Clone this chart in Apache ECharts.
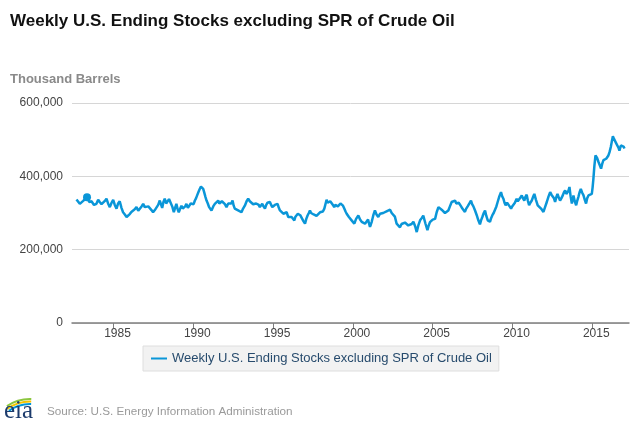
<!DOCTYPE html>
<html>
<head>
<meta charset="utf-8">
<script src="https://cdn.jsdelivr.net/npm/echarts@6/dist/echarts.min.js"></script>
<style>
  html, body { margin: 0; padding: 0; background: #fff; }
  #chart { width: 640px; height: 427px; }
</style>
</head>
<body>
<div id="chart"></div>
<script>
// Decimal years (x) and weekly ending stocks in thousand barrels (y)
const years = [
  1982.68, 1982.78, 1982.89, 1983.00, 1983.10, 1983.22, 1983.34, 1983.48, 1983.62, 1983.78,
  1983.93, 1984.04, 1984.14, 1984.25, 1984.35, 1984.46, 1984.56, 1984.66, 1984.77, 1984.88,
  1984.98, 1985.08, 1985.19, 1985.29, 1985.39, 1985.50, 1985.60, 1985.71, 1985.82, 1985.92,
  1986.02, 1986.12, 1986.23, 1986.33, 1986.44, 1986.55, 1986.65, 1986.76, 1986.86, 1986.96,
  1987.07, 1987.18, 1987.28, 1987.38, 1987.48, 1987.59, 1987.70, 1987.80, 1987.90, 1988.05,
  1988.13, 1988.21, 1988.30, 1988.38, 1988.48, 1988.57, 1988.68, 1988.78, 1988.86, 1988.94,
  1989.02, 1989.09, 1989.18, 1989.26, 1989.34, 1989.41, 1989.49, 1989.57, 1989.66, 1989.74,
  1989.84, 1989.93, 1990.02, 1990.10, 1990.17, 1990.24, 1990.33, 1990.41, 1990.48, 1990.55,
  1990.62, 1990.68, 1990.76, 1990.83, 1990.91, 1990.99, 1991.07, 1991.14, 1991.25, 1991.35,
  1991.46, 1991.56, 1991.63, 1991.70, 1991.79, 1991.87, 1991.98, 1992.08, 1992.19, 1992.29,
  1992.38, 1992.46, 1992.53, 1992.60, 1992.71, 1992.81, 1992.92, 1993.02, 1993.12, 1993.23,
  1993.34, 1993.44, 1993.54, 1993.64, 1993.75, 1993.85, 1993.94, 1994.03, 1994.10, 1994.17,
  1994.25, 1994.32, 1994.40, 1994.49, 1994.57, 1994.65, 1994.72, 1994.80, 1994.88, 1994.95,
  1995.03, 1995.11, 1995.20, 1995.28, 1995.36, 1995.43, 1995.54, 1995.64, 1995.75, 1995.85,
  1995.95, 1996.06, 1996.16, 1996.25, 1996.33, 1996.40, 1996.47, 1996.55, 1996.62, 1996.70,
  1996.79, 1996.90, 1997.00, 1997.08, 1997.16, 1997.24, 1997.31, 1997.38, 1997.46, 1997.54,
  1997.62, 1997.72, 1997.83, 1997.94, 1998.04, 1998.12, 1998.21, 1998.28, 1998.35, 1998.42,
  1998.50, 1998.58, 1998.67, 1998.75, 1998.83, 1998.90, 1998.98, 1999.06, 1999.13, 1999.22,
  1999.30, 1999.38, 1999.46, 1999.54, 1999.61, 1999.68, 1999.75, 1999.84, 1999.92, 2000.00,
  2000.09, 2000.20, 2000.34, 2000.45, 2000.55, 2000.66, 2000.76, 2000.86, 2000.95, 2001.02,
  2001.07, 2001.12, 2001.18, 2001.28, 2001.38, 2001.48, 2001.59, 2001.70, 2001.80, 2001.90,
  2002.01, 2002.17, 2002.33, 2002.43, 2002.53, 2002.63, 2002.74, 2002.84, 2002.95, 2003.05,
  2003.16, 2003.26, 2003.37, 2003.47, 2003.58, 2003.68, 2003.79, 2003.90, 2004.00, 2004.10,
  2004.21, 2004.31, 2004.41, 2004.54, 2004.67, 2004.75, 2004.83, 2004.92, 2005.00, 2005.08,
  2005.15, 2005.25, 2005.36, 2005.46, 2005.56, 2005.66, 2005.77, 2005.88, 2005.98, 2006.08,
  2006.19, 2006.30, 2006.40, 2006.48, 2006.56, 2006.63, 2006.71, 2006.78, 2006.86, 2006.94,
  2007.02, 2007.10, 2007.19, 2007.30, 2007.40, 2007.47, 2007.55, 2007.66, 2007.76, 2007.86,
  2007.96, 2008.03, 2008.11, 2008.20, 2008.28, 2008.36, 2008.45, 2008.52, 2008.59, 2008.66,
  2008.74, 2008.82, 2008.91, 2008.99, 2009.07, 2009.18, 2009.28, 2009.35, 2009.43, 2009.50,
  2009.57, 2009.66, 2009.74, 2009.82, 2009.91, 2009.98, 2010.05, 2010.15, 2010.26, 2010.33,
  2010.41, 2010.50, 2010.58, 2010.66, 2010.74, 2010.81, 2010.89, 2010.96, 2011.04, 2011.12,
  2011.21, 2011.29, 2011.37, 2011.47, 2011.58, 2011.68, 2011.79, 2011.86, 2011.94, 2012.04,
  2012.15, 2012.25, 2012.36, 2012.44, 2012.52, 2012.60, 2012.67, 2012.75, 2012.82, 2012.90,
  2012.98, 2013.06, 2013.15, 2013.22, 2013.30, 2013.37, 2013.44, 2013.50, 2013.57, 2013.64,
  2013.72, 2013.77, 2013.82, 2013.90, 2013.99, 2014.06, 2014.13, 2014.20, 2014.28, 2014.36,
  2014.45, 2014.53, 2014.61, 2014.68, 2014.76, 2014.86, 2014.97, 2015.02, 2015.07, 2015.13,
  2015.20, 2015.30, 2015.39, 2015.47, 2015.55, 2015.62, 2015.70, 2015.78, 2015.87, 2015.94,
  2016.01, 2016.08, 2016.16, 2016.22, 2016.29, 2016.36, 2016.43, 2016.50, 2016.58, 2016.64,
  2016.70, 2016.75, 2016.79, 2016.85, 2016.91, 2016.96, 2017.02
];
const stocks = [
  337000, 333000, 325000, 330000, 333000, 336000, 343000, 330000, 332000, 322000,
  325000, 336000, 330000, 324000, 321000, 333000, 339000, 326000, 316000, 328000,
  336000, 322000, 312000, 326000, 332000, 314000, 302000, 296000, 289000, 294000,
  297000, 303000, 307000, 310000, 316000, 306000, 302000, 318000, 325000, 316000,
  312000, 318000, 320000, 308000, 302000, 308000, 312000, 322000, 334000, 314000,
  330000, 339000, 326000, 328000, 338000, 343000, 318000, 302000, 314000, 325000,
  310000, 302000, 312000, 320000, 312000, 307000, 318000, 325000, 314000, 316000,
  326000, 330000, 324000, 334000, 340000, 348000, 358000, 366000, 372000, 375000,
  366000, 357000, 344000, 334000, 326000, 316000, 312000, 307000, 318000, 325000,
  330000, 334000, 326000, 325000, 332000, 334000, 324000, 316000, 326000, 330000,
  326000, 334000, 320000, 312000, 314000, 307000, 310000, 302000, 312000, 320000,
  332000, 339000, 332000, 330000, 324000, 320000, 326000, 330000, 322000, 316000,
  320000, 325000, 318000, 312000, 322000, 328000, 324000, 330000, 322000, 316000,
  320000, 322000, 318000, 325000, 314000, 307000, 302000, 298000, 294000, 302000,
  289000, 294000, 289000, 285000, 280000, 290000, 295000, 298000, 302000, 294000,
  289000, 278000, 271000, 284000, 293000, 300000, 307000, 300000, 302000, 296000,
  298000, 292000, 295000, 302000, 307000, 304000, 312000, 324000, 336000, 328000,
  325000, 332000, 330000, 322000, 316000, 322000, 325000, 318000, 321000, 326000,
  330000, 320000, 312000, 304000, 298000, 294000, 289000, 285000, 280000, 276000,
  271000, 284000, 293000, 282000, 276000, 280000, 271000, 276000, 282000, 270000,
  262000, 268000, 276000, 294000, 307000, 296000, 289000, 298000, 293000, 300000,
  303000, 306000, 309000, 300000, 303000, 290000, 271000, 266000, 261000, 270000,
  266000, 274000, 271000, 266000, 262000, 270000, 276000, 264000, 248000, 266000,
  280000, 286000, 293000, 272000, 253000, 266000, 275000, 278000, 282000, 278000,
  284000, 302000, 316000, 312000, 309000, 304000, 300000, 304000, 307000, 318000,
  330000, 328000, 334000, 326000, 321000, 328000, 325000, 318000, 312000, 310000,
  303000, 312000, 318000, 326000, 334000, 324000, 318000, 306000, 294000, 280000,
  269000, 280000, 289000, 300000, 307000, 292000, 280000, 284000, 276000, 286000,
  294000, 300000, 303000, 318000, 330000, 346000, 357000, 346000, 339000, 328000,
  321000, 328000, 325000, 318000, 312000, 318000, 316000, 328000, 339000, 332000,
  334000, 342000, 348000, 340000, 334000, 344000, 350000, 334000, 321000, 328000,
  334000, 344000, 352000, 336000, 321000, 318000, 312000, 308000, 303000, 316000,
  330000, 344000, 357000, 350000, 352000, 340000, 330000, 344000, 352000, 342000,
  334000, 340000, 348000, 356000, 362000, 352000, 348000, 360000, 371000, 346000,
  326000, 338000, 348000, 332000, 321000, 334000, 344000, 356000, 366000, 356000,
  348000, 336000, 326000, 340000, 348000, 346000, 352000, 370000, 394000, 428000,
  457000, 450000, 439000, 430000, 421000, 434000, 444000, 440000, 448000, 452000,
  457000, 466000, 480000, 494000, 509000, 502000, 497000, 490000, 488000, 478000,
  470000, 478000, 484000, 480000, 479000, 481000, 476000
];
const highlightYear = 1983.34;
const highlightValue = 343000;
const xTickYears = [1985, 1990, 1995, 2000, 2005, 2010, 2015];
const yTicks = [0, 200000, 400000, 600000];

const seriesName = 'Weekly U.S. Ending Stocks excluding SPR of Crude Oil';
const chartTitle = 'Weekly U.S. Ending Stocks excluding SPR of Crude Oil';
const unitLabel = 'Thousand Barrels';
const sourceText = 'Source: U.S. Energy Information Administration';

const lineData = years.map((y, i) => [y, stocks[i]]);
const FONT = '"Liberation Sans", Arial, sans-serif';

const chart = echarts.init(document.getElementById('chart'), null, { renderer: 'canvas' });
chart.setOption({
  animation: false,
  backgroundColor: '#ffffff',
  textStyle: { fontFamily: FONT },
  title: [
    { text: chartTitle, left: 5, top: 8,
      textStyle: { fontFamily: FONT, fontSize: 17, fontWeight: 'bold', color: '#111' } },
    { text: unitLabel, left: 5, top: 68,
      textStyle: { fontFamily: FONT, fontSize: 13, fontWeight: 'bold', color: '#8a8a8a' } }
  ],
  grid: { left: 72, right: 11, top: 103, bottom: 104, containLabel: false },
  xAxis: {
    type: 'value',
    min: 1982.4,
    max: 2017.3,
    splitLine: { show: false },
    axisLine: { show: true, lineStyle: { color: '#7f7f7f', width: 1.5 } },
    axisTick: { show: true, customValues: xTickYears, length: 5, lineStyle: { color: '#7f7f7f', width: 1 } },
    axisLabel: { customValues: xTickYears, color: '#444', fontSize: 12, fontFamily: FONT, margin: 5,
      padding: [0, 0, 0, 8],
      formatter: v => String(Math.round(v)) }
  },
  yAxis: {
    type: 'value',
    min: yTicks[0],
    max: yTicks[yTicks.length - 1],
    interval: 200000,
    axisLine: { show: false },
    axisTick: { show: false },
    splitLine: { show: true, lineStyle: { color: '#d6d6d6', width: 1 } },
    axisLabel: { color: '#444', fontSize: 12, fontFamily: FONT, margin: 9,
      formatter: v => v.toLocaleString('en-US') }
  },
  legend: {
    data: [seriesName],
    left: 143,
    top: 346,
    orient: 'horizontal',
    backgroundColor: '#f2f2f2',
    borderColor: '#dedede',
    borderWidth: 1,
    borderRadius: 0,
    padding: [6, 7, 6, 8],
    itemWidth: 16,
    itemHeight: 2,
    icon: 'rect',
    textStyle: { color: '#274b6d', fontSize: 13, fontFamily: FONT }
  },
  series: [{
    name: seriesName,
    type: 'line',
    data: lineData,
    showSymbol: false,
    symbol: 'none',
    lineStyle: { color: '#0a96d8', width: 2.5 },
    itemStyle: { color: '#0a96d8' },
    markPoint: {
      symbol: 'circle',
      symbolSize: 8,
      label: { show: false },
      itemStyle: { color: '#0a96d8' },
      data: [{ coord: [highlightYear, highlightValue] }]
    }
  }],
  graphic: [
    { type: 'arc', shape: { cx: 30, cy: 440, r: 41, startAngle: Math.PI * 1.31, endAngle: Math.PI * 1.51 },
      style: { stroke: '#8cc63f', lineWidth: 2, fill: null } },
    { type: 'arc', shape: { cx: 30, cy: 440, r: 38.5, startAngle: Math.PI * 1.30, endAngle: Math.PI * 1.51 },
      style: { stroke: '#f5c400', lineWidth: 2, fill: null } },
    { type: 'arc', shape: { cx: 30, cy: 440, r: 36, startAngle: Math.PI * 1.30, endAngle: Math.PI * 1.51 },
      style: { stroke: '#0096d7', lineWidth: 2, fill: null } },
    { type: 'text', left: 4, top: 399,
      style: { text: 'eia', font: '25px "Liberation Serif", "Times New Roman", serif', fill: '#1c3b6c' } },
    { type: 'text', left: 47, top: 406,
      style: { text: sourceText, font: '11.7px "Liberation Sans", Arial, sans-serif', fill: '#9a9a9a' } }
  ]
});
</script>
</body>
</html>
